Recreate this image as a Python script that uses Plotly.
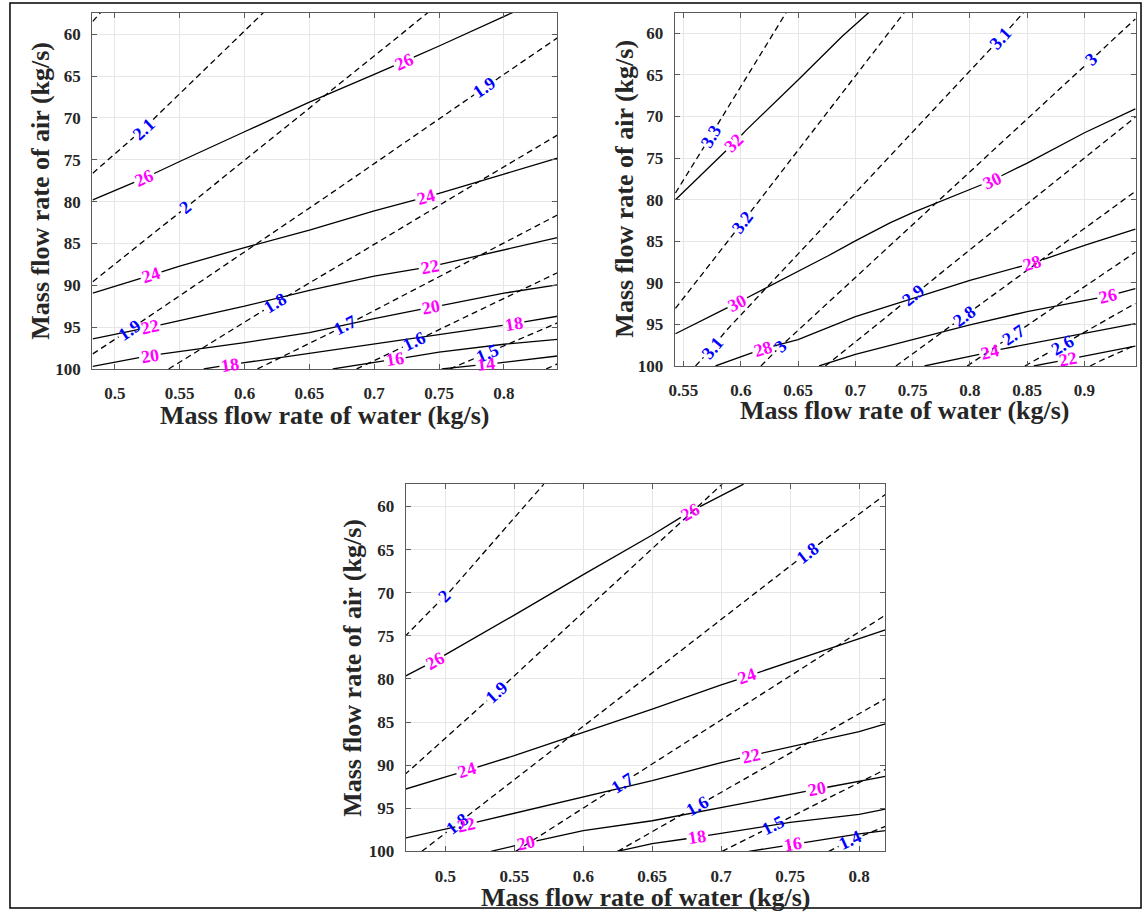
import numpy as np
import plotly.graph_objects as go

# ---------------- panel 1 (top left) ----------------
# solid contours, magenta labels
p1_temp_levels = [26, 24, 22, 20, 18, 16, 14]
p1_temp_x = [
    [0.483, 0.5227, 0.55, 0.60, 0.65, 0.70, 0.7228, 0.75, 0.8066],
    [0.483, 0.528, 0.55, 0.60, 0.65, 0.70, 0.7398, 0.75, 0.80, 0.8412],
    [0.483, 0.527, 0.60, 0.65, 0.70, 0.7427, 0.80, 0.8412],
    [0.483, 0.527, 0.60, 0.65, 0.70, 0.744, 0.80, 0.8412],
    [0.5685, 0.589, 0.6005, 0.6852, 0.75, 0.8074, 0.8412],
    [0.668, 0.7159, 0.75, 0.80, 0.8412],
    [0.752, 0.7865, 0.8412],
]
p1_temp_y = [
    [79.8, 77.2, 75.2, 71.65, 68.1, 64.8, 63.25, 61.4, 57.4],
    [90.94, 88.8, 87.7, 85.5, 83.4, 81.1, 79.45, 79.0, 76.7, 74.8],
    [96.4, 95.0, 92.5, 90.6, 88.9, 87.8, 85.8, 84.3],
    [99.7, 98.4, 96.85, 95.67, 93.98, 92.64, 90.94, 89.96],
    [100, 99.5, 99.24, 97.27, 95.87, 94.6, 93.7],
    [100, 98.84, 98.0, 97.05, 96.46],
    [100, 99.45, 98.45],
]
p1_temp_labels = [[0.5227, 0.7228], [0.528, 0.7398], [0.527, 0.7427],
                  [0.527, 0.744], [0.589, 0.8074], [0.7159], [0.7865]]

# dashed contours, blue labels
p1_ratio_levels = [2.2, 2.1, 2.0, 1.9, 1.8, 1.7, 1.6, 1.5, 1.4]
p1_ratio_x = [
    [0.483, 0.489],
    [0.483, 0.5223, 0.6146],
    [0.483, 0.5548, 0.66, 0.7415],
    [0.483, 0.5114, 0.664, 0.7853, 0.8412],
    [0.5415, 0.6236, 0.6775, 0.758, 0.8412],
    [0.610, 0.678, 0.8412],
    [0.6864, 0.7313, 0.8412],
    [0.7583, 0.7877, 0.8412],
    [0.8326, 0.8412],
]
p1_ratio_y = [
    [58.46, 57.4],
    [76.6, 71.27, 57.4],
    [89.57, 80.7, 67.6, 57.4],
    [98.2, 95.3, 79.3, 66.34, 60.43],
    [100, 92.15, 87.2, 79.7, 72.05],
    [100, 94.8, 81.6],
    [100, 96.7, 88.5],
    [100, 98.06, 94.5],
    [100, 99.4],
]
p1_ratio_labels = [[], [0.5223], [0.5548], [0.5114, 0.7853], [0.6236],
                   [0.678], [0.7313], [0.7877], []]

# ---------------- panel 2 (top right) ----------------
p2_temp_levels = [32, 30, 28, 26, 24, 22]
p2_temp_x = [
    [0.543, 0.594, 0.6043, 0.65, 0.6886, 0.712],
    [0.543, 0.597, 0.6128, 0.65, 0.6763, 0.70, 0.7302, 0.75, 0.80, 0.819, 0.85, 0.90, 0.9444],
    [0.5779, 0.6192, 0.65, 0.70, 0.75, 0.80, 0.8546, 0.90, 0.9444],
    [0.6683, 0.70, 0.75, 0.80, 0.85, 0.9206, 0.9444],
    [0.7603, 0.8175, 0.8268, 0.9444],
    [0.8557, 0.886, 0.9444],
]
p2_temp_y = [
    [80.0, 73.2, 71.7, 65.6, 60.36, 57.46],
    [96.12, 92.4, 91.28, 88.65, 86.75, 84.95, 82.8, 81.55, 78.8, 77.7, 75.6, 71.95, 69.08],
    [100, 97.95, 96.84, 94.06, 91.88, 89.7, 87.64, 85.5, 83.55],
    [100, 98.6, 96.84, 95.05, 93.47, 91.6, 90.69],
    [100, 98.34, 98.0, 94.9],
    [100, 99.2, 97.6],
]
p2_temp_labels = [[0.594], [0.597, 0.819], [0.6192, 0.8546], [0.9206], [0.8175], [0.886]]

p2_ratio_levels = [3.3, 3.2, 3.1, 3.0, 2.9, 2.8, 2.7, 2.6, 2.5]
p2_ratio_x = [
    [0.543, 0.574, 0.5811, 0.6398],
    [0.543, 0.6017, 0.6653, 0.7429],
    [0.5605, 0.5753, 0.5869, 0.827, 0.847],
    [0.6176, 0.635, 0.6596, 0.9063, 0.9444],
    [0.6738, 0.7508, 0.9444],
    [0.7354, 0.7953, 0.9444],
    [0.7976, 0.838, 0.9444],
    [0.848, 0.8809, 0.9444],
    [0.905, 0.9136, 0.9444],
]
p2_ratio_y = [
    [79.2, 72.3, 70.65, 57.46],
    [93.07, 82.7, 71.3, 57.46],
    [100, 97.8, 95.8, 60.55, 57.46],
    [100, 97.6, 94.5, 63.13, 58.26],
    [100, 91.48, 70.07],
    [100, 93.98, 79.0],
    [100, 96.24, 86.33],
    [100, 97.43, 92.47],
    [100, 99.4, 97.5],
]
p2_ratio_labels = [[0.574], [0.6017], [0.5753, 0.827], [0.635, 0.9063], [0.7508],
                   [0.7953], [0.838], [0.8809], []]

# ---------------- panel 3 (bottom) ----------------
p3_temp_levels = [26, 24, 22, 20, 18, 16]
p3_temp_x = [
    [0.4706, 0.4923, 0.55, 0.60, 0.65, 0.6775, 0.7162],
    [0.4706, 0.5157, 0.55, 0.60, 0.65, 0.70, 0.7188, 0.75, 0.80, 0.819],
    [0.4706, 0.515, 0.55, 0.60, 0.65, 0.70, 0.7214, 0.75, 0.80, 0.819],
    [0.533, 0.5583, 0.60, 0.65, 0.70, 0.75, 0.7691, 0.80, 0.819],
    [0.6246, 0.65, 0.6827, 0.70, 0.75, 0.80, 0.819],
    [0.72, 0.7523, 0.80, 0.819],
]
p3_temp_y = [
    [79.7, 77.9, 72.6, 67.9, 63.3, 60.6, 57.4],
    [92.8, 90.6, 88.9, 86.2, 83.5, 80.7, 79.7, 78.0, 75.3, 74.3],
    [98.47, 96.9, 95.6, 93.7, 91.8, 89.7, 88.9, 87.9, 86.1, 85.2],
    [100, 99.05, 97.6, 96.45, 94.9, 93.4, 92.8, 91.87, 91.3],
    [100, 99.1, 98.36, 97.9, 96.64, 95.7, 95.1],
    [100, 99.2, 97.98, 97.6],
]
p3_temp_labels = [[0.4923, 0.6775], [0.5157, 0.7188], [0.515, 0.7214],
                  [0.5583, 0.7691], [0.6827], [0.7523]]

p3_ratio_levels = [2.0, 1.9, 1.8, 1.7, 1.6, 1.5, 1.4]
p3_ratio_x = [
    [0.4706, 0.4995, 0.5036, 0.5714],
    [0.4706, 0.5374, 0.7007],
    [0.483, 0.5085, 0.7626, 0.819],
    [0.551, 0.6285, 0.819],
    [0.625, 0.6827, 0.819],
    [0.7007, 0.7381, 0.819],
    [0.778, 0.7936, 0.819],
]
p3_ratio_y = [
    [75.1, 70.4, 69.8, 57.4],
    [91.1, 81.5, 57.4],
    [100, 96.83, 65.34, 58.6],
    [100, 92.06, 72.6],
    [100, 94.73, 82.3],
    [100, 97.0, 90.5],
    [100, 98.74, 97.1],
]
p3_ratio_labels = [[0.4995], [0.5374], [0.5085, 0.7626], [0.6285], [0.6827],
                   [0.7381], [0.7936]]

x_title = "Mass flow rate of water (kg/s)"
y_title = "Mass flow rate of air (kg/s)"

# ---------------- layout / styling ----------------
W, H = 1144, 920
FONT = "Liberation Serif"
MAGENTA = "#ff00ff"
BLUE = "#0000ff"
LABEL_SIZE = 18

panels = [
    dict(ax="", temp=(p1_temp_levels, p1_temp_x, p1_temp_y, p1_temp_labels),
         ratio=(p1_ratio_levels, p1_ratio_x, p1_ratio_y, p1_ratio_labels),
         xr=[0.4826, 0.8412], yr=[100, 57.4], box=(86.7, 12.7, 554.3, 373.0),
         xt=(320.5, 420), yt=(35, 193)),
    dict(ax="2", temp=(p2_temp_levels, p2_temp_x, p2_temp_y, p2_temp_labels),
         ratio=(p2_ratio_levels, p2_ratio_x, p2_ratio_y, p2_ratio_labels),
         xr=[0.5424, 0.945], yr=[100, 57.5], box=(672.3, 12.7, 1136.0, 370.0),
         xt=(904, 415), yt=(622, 191)),
    dict(ax="3", temp=(p3_temp_levels, p3_temp_x, p3_temp_y, p3_temp_labels),
         ratio=(p3_ratio_levels, p3_ratio_x, p3_ratio_y, p3_ratio_labels),
         xr=[0.4712, 0.819], yr=[100, 57.35], box=(401.7, 489.0, 884.0, 860.7),
         xt=(643, 907), yt=(348, 675)),
]

fig = go.Figure()
annotations = []


def text_width(t, size):
    return sum(0.25 * size if c == "." else 0.5 * size for c in t)


def label_angle(xs, ys, lx, sx, sy):
    d = 0.004
    y1 = np.interp(lx - d, xs, ys)
    y2 = np.interp(lx + d, xs, ys)
    return float(np.degrees(np.arctan2((y2 - y1) * sy, 2 * d * sx)))


def cut_for_labels(xs, ys, lab_xs, texts, sx, sy):
    # break the contour where its inline labels sit (like MATLAB clabel)
    xs = np.asarray(xs, float)
    ys = np.asarray(ys, float)
    s = np.concatenate([[0.0], np.cumsum(np.hypot(np.diff(xs) * sx, np.diff(ys) * sy))])
    gaps = []
    for lx, t in zip(lab_xs, texts):
        sc = float(np.interp(lx, xs, s))
        hw = text_width(t, LABEL_SIZE) / 2 + 2
        gaps.append((sc - hw, sc + hw))
    pts = sorted(set(s.tolist()) | {g for gp in gaps for g in gp if 0 < g < s[-1]})
    out = []
    drawn = False
    for a, b in zip(pts[:-1], pts[1:]):
        mid = 0.5 * (a + b)
        if any(g0 < mid < g1 for g0, g1 in gaps):
            drawn = False
            continue
        if not drawn:
            if out:
                out.append(None)
            out.append(a)
        out.append(b)
        drawn = True
    ox = [None if v is None else float(np.interp(v, s, xs)) for v in out]
    oy = [None if v is None else float(np.interp(v, s, ys)) for v in out]
    return ox, oy


for p in panels:
    xa, ya = "x" + p["ax"], "y" + p["ax"]
    x0, y0, x1, y1 = p["box"]
    sx = (x1 - x0) / (p["xr"][1] - p["xr"][0])
    sy = (y1 - y0) / (p["yr"][0] - p["yr"][1])

    for key, dash, color in (("ratio", "6px,4px", BLUE), ("temp", "solid", MAGENTA)):
        levels, xs_all, ys_all, labs = p[key]
        for lev, xs, ys, lab in zip(levels, xs_all, ys_all, labs):
            txt = f"{lev:g}"
            lx_line, ly_line = cut_for_labels(xs, ys, lab, [txt] * len(lab), sx, sy)
            fig.add_trace(go.Scatter(
                x=lx_line, y=ly_line, mode="lines", xaxis=xa, yaxis=ya,
                line=dict(color="black", width=1.3, dash=dash),
                connectgaps=False, showlegend=False, hoverinfo="skip"))
            for lx in lab:
                ly = float(np.interp(lx, xs, ys))
                annotations.append(dict(
                    x=lx, y=ly, xref=xa, yref=ya, text=txt,
                    showarrow=False, textangle=label_angle(xs, ys, lx, sx, sy),
                    font=dict(family=FONT, size=LABEL_SIZE, color=color, weight="bold"),
                    borderpad=0, xanchor="center", yanchor="middle"))

    axis_common = dict(
        showgrid=True, gridcolor="#e6e6e6", gridwidth=1, zeroline=False,
        showline=True, linecolor="#5a5a5a", linewidth=1, mirror="ticks",
        ticks="inside", ticklen=5, tickcolor="#5a5a5a",
        tickfont=dict(family=FONT, size=17, color="#262626", weight="bold"))
    fig.update_layout(**{
        "xaxis" + p["ax"]: dict(axis_common, domain=[x0 / W, x1 / W], range=p["xr"],
                                tick0=0.5, dtick=0.05, anchor=ya,
                                ticklabelstandoff=9),
        "yaxis" + p["ax"]: dict(axis_common, domain=[1 - y1 / H, 1 - y0 / H], range=p["yr"],
                                tick0=60, dtick=5, anchor=xa,
                                ticklabelstandoff=7),
    })

    annotations.append(dict(
        x=p["xt"][0] / W, y=1 - p["xt"][1] / H, xref="paper", yref="paper",
        text=x_title, showarrow=False, xanchor="center", yanchor="middle",
        font=dict(family=FONT, size=26, color="#262626", weight="bold")))
    annotations.append(dict(
        x=p["yt"][0] / W, y=1 - p["yt"][1] / H, xref="paper", yref="paper",
        text=y_title, showarrow=False, xanchor="center", yanchor="middle",
        textangle=-90,
        font=dict(family=FONT, size=26, color="#262626", weight="bold")))

fig.update_layout(
    width=W, height=H, margin=dict(l=0, r=0, t=0, b=0),
    paper_bgcolor="white", plot_bgcolor="white",
    annotations=annotations,
    shapes=[dict(type="rect", xref="paper", yref="paper",
                 x0=4 / W, x1=1141 / W, y0=1 - 918 / H, y1=1 - 3 / H,
                 line=dict(color="black", width=1.5))],
)

fig.write_html("out.html", config={"displayModeBar": False},
               post_script="document.body.style.margin='0';")
